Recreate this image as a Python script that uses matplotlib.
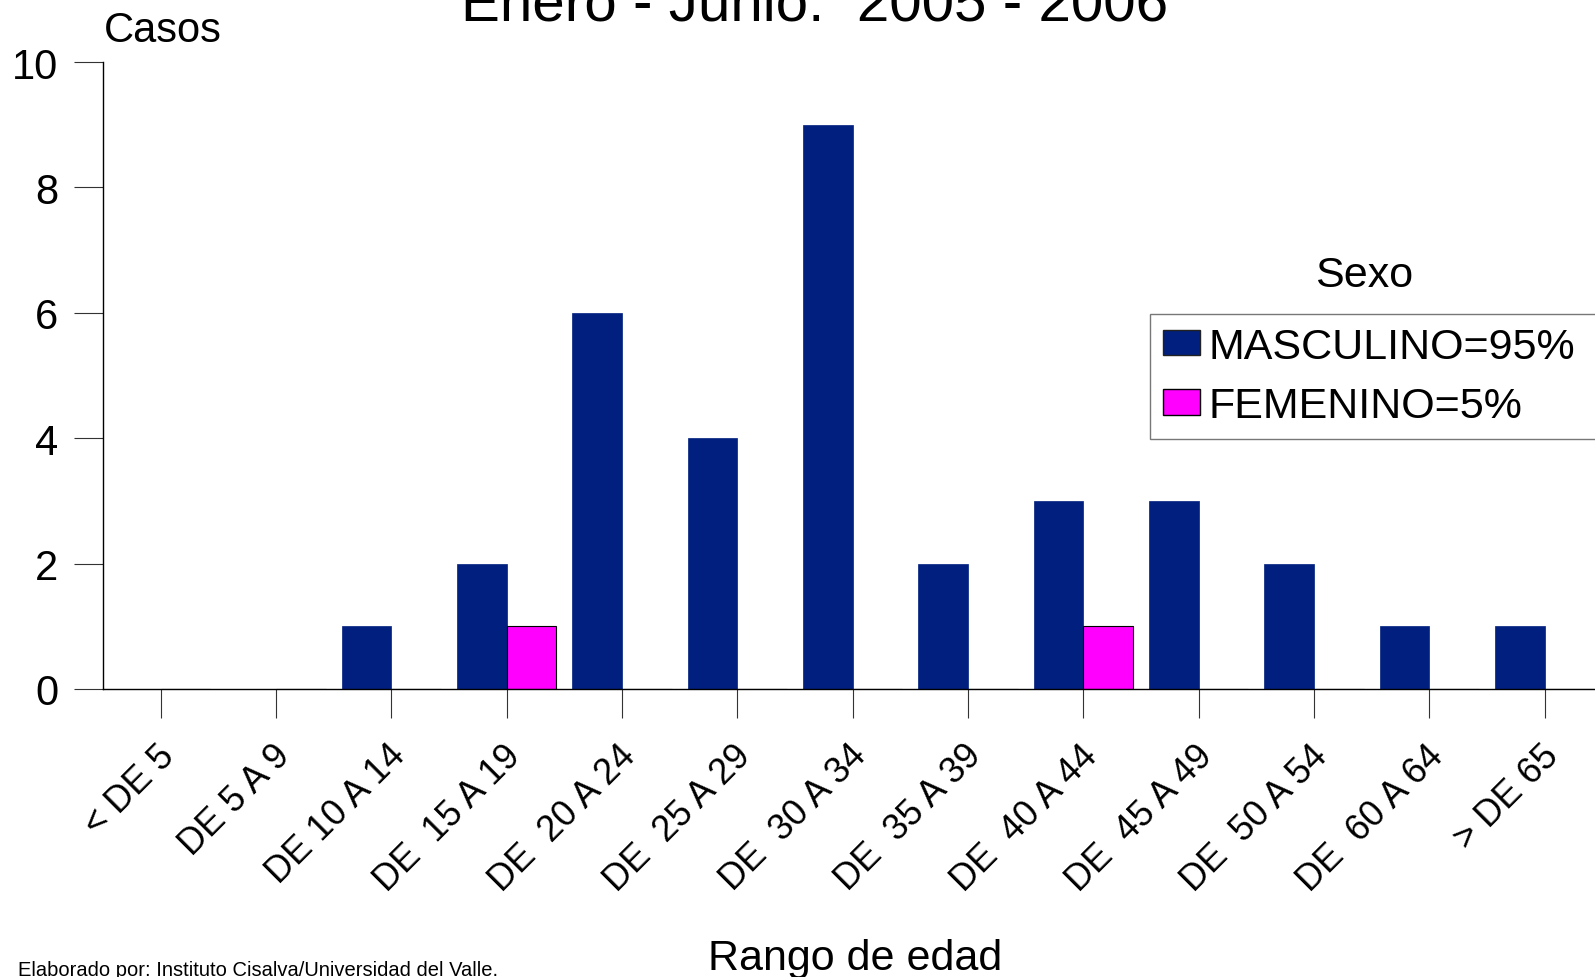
import numpy as np
import matplotlib
matplotlib.use("Agg")
import matplotlib.pyplot as plt
import matplotlib.transforms as mtransforms
from matplotlib.patches import Patch

plt.rcParams['font.family'] = ['Liberation Sans', 'DejaVu Sans']
narrow = ['Liberation Sans Narrow', 'Liberation Sans', 'DejaVu Sans']

# data
rangos = ["< DE 5", "DE 5 A 9", "DE 10 A 14", "DE  15 A 19", "DE  20 A 24",
          "DE  25 A 29", "DE  30 A 34", "DE  35 A 39", "DE  40 A 44",
          "DE  45 A 49", "DE  50 A 54", "DE  60 A 64", "> DE 65"]
masculino = [0, 0, 1, 2, 6, 4, 9, 2, 3, 3, 2, 1, 1]
femenino = [0, 0, 0, 1, 0, 0, 0, 0, 1, 0, 0, 0, 0]
series_labels = ["MASCULINO=95%", "FEMENINO=5%"]

azul = "#001f7f"
magenta = "#ff00ff"

fig = plt.figure(figsize=(15.95, 9.78), dpi=100)
ax = fig.add_axes([0.0646, 0.2945, 0.940, 0.641])

x = np.arange(len(rangos))
w = 0.43
ax.bar(x, masculino, width=-w, align='edge', color=azul, edgecolor=azul, linewidth=0.5)
ax.bar(x, femenino, width=w, align='edge', color=magenta, edgecolor='black', linewidth=0.8)

ax.set_xlim(-0.5, 12.5)
ax.set_ylim(0, 10)
ax.set_yticks([0, 2, 4, 6, 8, 10])
ax.set_xticks(x)
ax.set_xticklabels(rangos, rotation=45, ha='right', va='top', rotation_mode='anchor')

for s in ['top', 'right']:
    ax.spines[s].set_visible(False)
ax.spines['left'].set_linewidth(1.0)
ax.spines['bottom'].set_linewidth(1.0)
ax.tick_params(axis='both', direction='out', length=21, width=0.8, color='#333333')
ax.tick_params(axis='y', pad=11, labelsize=30)
ax.tick_params(axis='x', pad=14, labelsize=26)

offset = mtransforms.ScaledTranslation(-4 / 100, 0, fig.dpi_scale_trans)
for lab in ax.get_xticklabels():
    lab.set_transform(lab.get_transform() + offset)

fig.text(0.511, 0.979, "Enero - Junio.  2005 - 2006", ha='center', va='baseline', fontsize=42)
fig.text(0.065, 0.968, "Casos", ha='left', va='center', fontsize=30, family=narrow)
fig.text(0.536, 0.019, "Rango de edad", ha='center', va='center', fontsize=31)
fig.text(0.011, 0.008, "Elaborado por: Instituto Cisalva/Universidad del Valle.",
         ha='left', va='center', fontsize=14.5, family=narrow)

fig.text(0.855, 0.718, "Sexo", ha='center', va='center', fontsize=31)
handles = [Patch(facecolor=azul, edgecolor='#222222'), Patch(facecolor=magenta, edgecolor='black')]
leg = fig.legend(handles, series_labels, loc='upper left', bbox_to_anchor=(0.721, 0.678, 0.30, 0),
                 mode='expand', fontsize=31, frameon=True, fancybox=False, borderpad=0.3,
                 handlelength=0.86, handleheight=0.53, handletextpad=0.2, labelspacing=0.45,
                 borderaxespad=0)
leg.get_frame().set_edgecolor('#555555')
leg.get_frame().set_linewidth(1.0)

fig.savefig("out.png", dpi=100)
